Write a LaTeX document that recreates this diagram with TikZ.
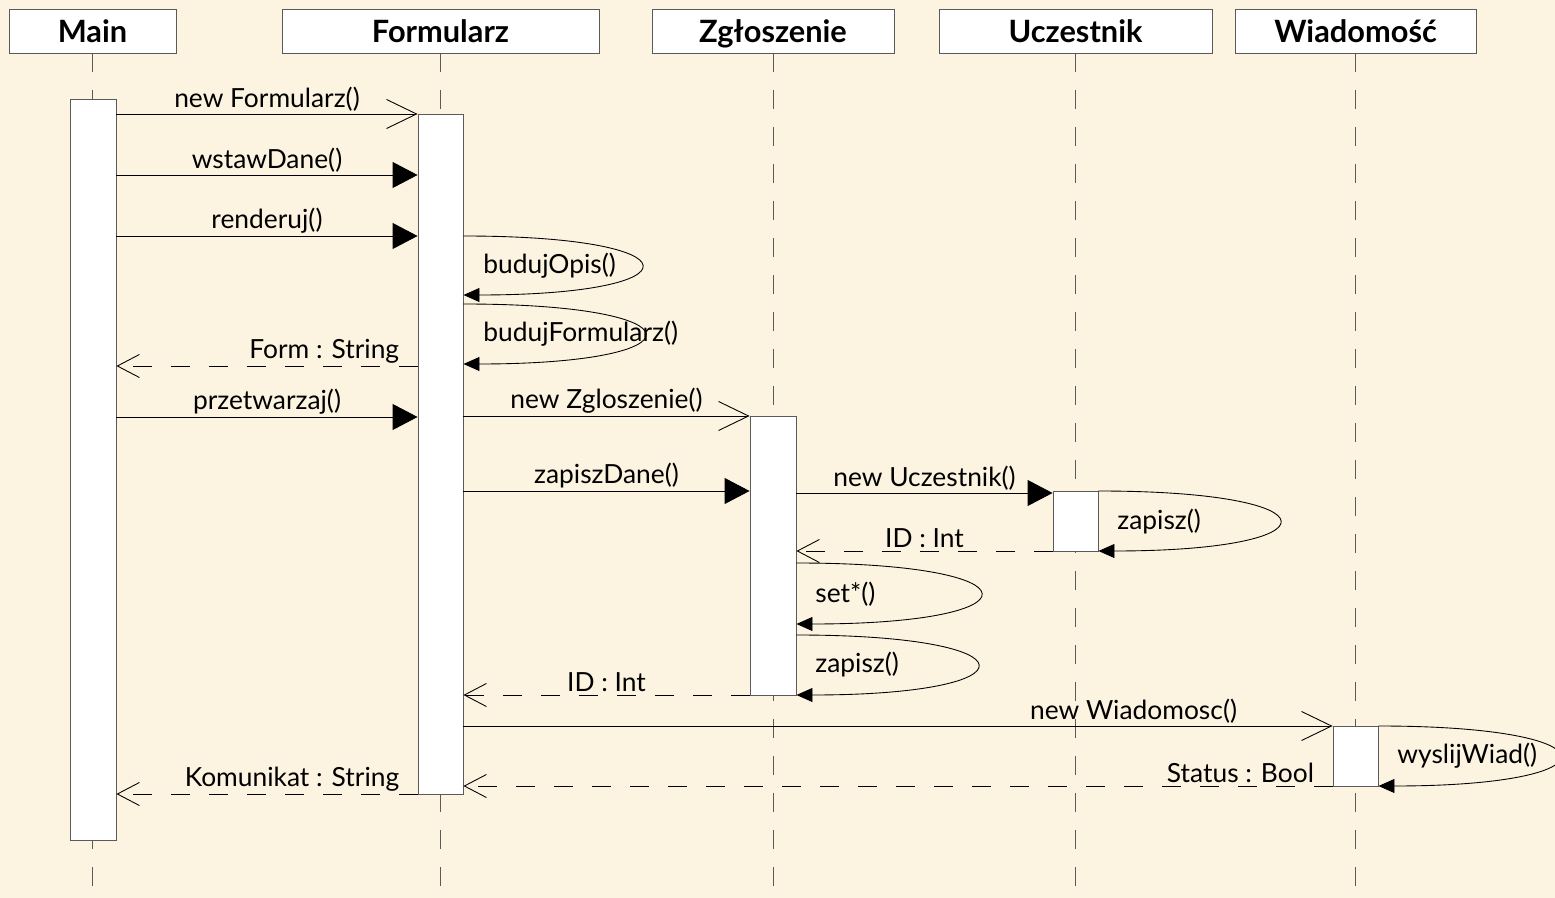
\documentclass[tikz,border=0pt]{standalone}
\usepackage{fontspec}
\setmainfont{Lato}
\usetikzlibrary{arrows.meta,fit}
\definecolor{paper}{HTML}{FCF4E1}
\definecolor{lifegray}{HTML}{5A5A5A}

\begin{document}
\begin{tikzpicture}[
    x = 0.02cm, y = -0.02cm,
    font = \fontsize{15}{18}\selectfont,
    line width = 0.5pt,
    head/.style = {draw = lifegray, fill = white, minimum height = 0.88cm,
                   text height = 13pt, text depth = 0pt,
                   font = \fontsize{17.5}{20}\selectfont\bfseries},
    life/.style = {draw = lifegray, dash pattern = on 0.38cm off 0.36cm},
    act/.style = {draw = lifegray, fill = white, inner sep = 0pt},
    call/.style = {-{Triangle[length = 0.5cm, width = 0.52cm]}},
    create/.style = {-{Straight Barb[length = 0.6cm, width = 0.58cm]}},
    reply/.style = {-{Straight Barb[length = 0.44cm, width = 0.46cm]},
                    dash pattern = on 0.38cm off 0.38cm},
    selfy/.style = {-{Triangle[length = 0.32cm, width = 0.28cm]},
                    out = 0, in = 0, looseness = 10.3},
    lbl/.style = {above, inner sep = 1.5pt},
    loopname/.style = {anchor = west, inner sep = 0pt}
  ]
  \fill[paper] (0,0) rectangle (1555,898);
  \useasboundingbox (0,0) rectangle (1555,898);
  % heads
  \node[head, minimum width = 3.34cm] (main) at (92.5,  31) {Main};
  \node[head, minimum width = 6.34cm] (form) at (440.5, 31) {Formularz};
  \node[head, minimum width = 4.84cm] (zgl)  at (773,   31) {Zgłoszenie};
  \node[head, minimum width = 5.46cm] (ucz)  at (1075.5,31) {Uczestnik};
  \node[head, minimum width = 4.82cm] (wiad) at (1355.5,31) {Wiadomość};
  % lifelines
  \foreach \obj in {main, form, zgl, ucz, wiad}
    \draw[life] (\obj.south) -- (\obj.south |- 0,898);
  % activations
  \node[act, fit = {(70,99) (116,840)}]    (mainact) {};
  \node[act, fit = {(418,114) (463,794)}]  (formact) {};
  \node[act, fit = {(750,416) (796,695)}]  (zglact)  {};
  \node[act, fit = {(1053,491) (1098,551)}] (uczact) {};
  \node[act, fit = {(1333,726) (1378,786)}] (wiadact) {};
  % Main -> Formularz
  \draw[create] (mainact.east |- 0,114) -- node[lbl] {new Formularz()} (formact.west |- 0,114);
  \draw[call] (mainact.east |- 0,175) -- node[lbl] {wstawDane()} (formact.west |- 0,175);
  \draw[call] (mainact.east |- 0,236) -- node[lbl] {renderuj()} (formact.west |- 0,236);
  \draw[selfy] (formact.east |- 0,236) to (formact.east |- 0,295);
  \node[loopname] (opis) at (483,266) {budujOpis()};
  \draw[selfy] (formact.east |- 0,304) to (formact.east |- 0,364);
  \node[loopname] (budf) at (483,334) {budujFormularz()};
  \draw[reply] (formact.west |- 0,366) -- node[lbl, pos = 0.31] {Form : String} (mainact.east |- 0,366);
  \draw[call] (mainact.east |- 0,417) -- node[lbl] {przetwarzaj()} (formact.west |- 0,417);
  % Formularz -> Zgloszenie -> Uczestnik
  \draw[create] (formact.east |- 0,416) -- node[lbl] {new Zgloszenie()} (zglact.west |- 0,416);
  \draw[call] (formact.east |- 0,491) -- node[lbl] {zapiszDane()} (zglact.west |- 0,491);
  \draw[call] (zglact.east |- 0,493) -- node[lbl] {new Uczestnik()} (uczact.west |- 0,493);
  \draw[selfy] (uczact.east |- 0,491) to (uczact.east |- 0,551);
  \node[loopname] (uzap) at (1117,522) {zapisz()};
  \draw[reply] (uczact.west |- 0,551) -- node[lbl] {ID : Int} (zglact.east |- 0,551);
  \draw[selfy] (zglact.east |- 0,563) to (zglact.east |- 0,624);
  \node[loopname] (sets) at (815,594) {set*()};
  \draw[selfy] (zglact.east |- 0,635) to (zglact.east |- 0,695);
  \node[loopname] (zzap) at (815,665) {zapisz()};
  \draw[reply] (zglact.west |- 0,695) -- node[lbl] {ID : Int} (formact.east |- 0,695);
  % Formularz -> Wiadomosc
  \draw[create] (formact.east |- 0,726) -- node[lbl, pos = 0.771] {new Wiadomosc()} (wiadact.west |- 0,726);
  \draw[selfy] (wiadact.east |- 0,726) to (wiadact.east |- 0,786);
  \node[loopname] (wysl) at (1397,756) {wyslijWiad()};
  \draw[reply] (wiadact.west |- 0,786) -- node[lbl, pos = 0.106] {Status : Bool} (formact.east |- 0,786);
  \draw[reply] (formact.west |- 0,794) -- node[lbl, pos = 0.417] {Komunikat : String} (mainact.east |- 0,794);
\end{tikzpicture}
\end{document}
